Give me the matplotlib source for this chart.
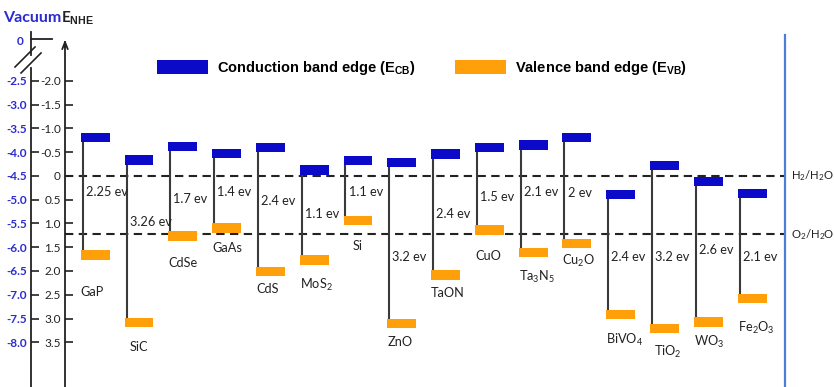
import numpy as np
import matplotlib.pyplot as plt

# Lato is the closest installed face to the Calibri-like labels
plt.rcParams['font.family'] = ['Lato', 'DejaVu Sans']
plt.rcParams['mathtext.fontset'] = 'custom'
plt.rcParams['mathtext.rm'] = 'Lato'
plt.rcParams['mathtext.it'] = 'Lato:italic'
plt.rcParams['mathtext.bf'] = 'Liberation Sans:bold'

# band edges vs NHE (eV)
materials = ['GaP', 'SiC', 'CdSe', 'GaAs', 'CdS', 'MoS$_2$', 'Si', 'ZnO', 'TaON', 'CuO',
             'Ta$_3$N$_5$', 'Cu$_2$O', 'BiVO$_4$', 'TiO$_2$', 'WO$_3$', 'Fe$_2$O$_3$']
cb = [-0.81, -0.34, -0.62, -0.47, -0.60, -0.13, -0.33, -0.28, -0.46, -0.60, -0.65, -0.81, 0.39, -0.22, 0.12, 0.37]
vb = [1.66, 3.08, 1.26, 1.10, 2.01, 1.77, 0.94, 3.11, 2.08, 1.14, 1.61, 1.42, 2.92, 3.21, 3.07, 2.58]
gaps = ['2.25', '3.26', '1.7', '1.4', '2.4', '1.1', '1.1', '3.2', '2.4', '1.5', '2.1', '2', '2.4', '3.2', '2.6', '2.1']

nhe_ticks = [-2.0, -1.5, -1.0, -0.5, 0.0, 0.5, 1.0, 1.5, 2.0, 2.5, 3.0, 3.5]
vac_ticks = [-2.5, -3.0, -3.5, -4.0, -4.5, -5.0, -5.5, -6.0, -6.5, -7.0, -7.5, -8.0]
redox = [0.0, 1.23]
redox_names = ['H$_2$/H$_2$O', 'O$_2$/H$_2$O']

# where the annotations sit (energy units) and small sideways nudges
gap_y = [0.34, 0.97, 0.48, 0.34, 0.53, 0.80, 0.34, 1.71, 0.80, 0.44, 0.34, 0.36, 1.71, 1.71, 1.56, 1.71]
name_y = [2.44, 3.60, 1.83, 1.52, 2.38, 2.29, 1.47, 3.49, 2.46, 1.68, 2.13, 1.79, 3.45, 3.71, 3.49, 3.20]
name_dx = [0, 0.12, 0, 0, 0, 0, 0.2, 0, 0, 0, 0, 0, 0, 0.1, 0, 0]

BLUE = '#0A0AC8'
ORANGE = '#FFA00A'
DARK = '#222222'
VAC = '#2B2BD0'

W, H = 834, 387
fig = plt.figure(figsize=(W / 100, H / 100), dpi=100)
ax = fig.add_axes([0, 0, 1, 1])
ax.set_xlim(-2.174, 16.87)
ax.set_ylim(4.442, -3.705)


def px(x, y):
    # figure pixel -> data coords
    return (x - 95.2) / 43.8, (y - 176) / 47.5


x = np.arange(len(materials))
cb = np.array(cb)
vb = np.array(vb)
bw, bh = 0.66, 0.2

ax.vlines(x - 0.285, cb, vb, color='#3a3a3a', lw=1.5, zorder=2)
b1 = ax.bar(x, bh, bottom=cb - bh / 2, width=bw, color=BLUE, zorder=3)
b2 = ax.bar(x, bh, bottom=vb - bh / 2, width=bw, color=ORANGE, zorder=3)

for i in range(len(materials)):
    ax.text(x[i] - 0.215, gap_y[i], gaps[i] + ' ev', ha='left', va='center', fontsize=9.2, color=DARK)
    ax.text(x[i] - bw / 2 + name_dx[i], name_y[i], materials[i], ha='left', va='center',
            fontsize=9.2, color=DARK)

# water redox levels
x_nhe, _ = px(65, 0)
x_end, _ = px(785, 0)
for lvl, lab in zip(redox, redox_names):
    ax.plot([x_nhe, x_end], [lvl, lvl], color='#222222', lw=1.5, ls=(0, (4, 2.6)), zorder=1)
    ax.text(px(791, 0)[0], lvl, lab, ha='left', va='center', fontsize=8.2, color=DARK)
ax.axvline(x_end, ymin=0, ymax=1 - 35 / H, color='#4A7FD8', lw=1.6)

# NHE axis
for s in ['top', 'right', 'bottom']:
    ax.spines[s].set_visible(False)
ax.spines['left'].set_position(('data', x_nhe))
ax.spines['left'].set_bounds(px(0, 42)[1], 4.442)
ax.spines['left'].set_linewidth(1.3)
ax.spines['left'].set_color('#222222')
ax.set_xticks([])
ax.set_yticks(nhe_ticks)
ax.set_yticklabels(['0' if v == 0 else f'{v:.1f}' for v in nhe_ticks])
ax.tick_params(axis='y', direction='in', length=6, width=1.2, labelsize=8.5, pad=3,
               colors='#222222')
ax.annotate('', xy=px(65, 37), xytext=px(65, 50),
            arrowprops=dict(arrowstyle='->,head_length=0.5,head_width=0.2', lw=1.3, color='#222222'))

# vacuum scale
sec = ax.secondary_yaxis(31 / W, functions=(lambda e: -4.5 - e, lambda v: -4.5 - v))
sec.set_yticks(vac_ticks)
sec.set_yticklabels([f'{v:.1f}' for v in vac_ticks])
sec.tick_params(axis='y', direction='in', length=6, width=1.2, labelsize=8.5, pad=3,
                labelcolor=VAC, color='#222222')
for lab in sec.get_yticklabels():
    lab.set_fontweight('bold')
sec.spines['left'].set_bounds(-4.5 - 4.442, -4.5 - px(0, 68)[1])
sec.spines['left'].set_linewidth(1.3)
sec.spines['left'].set_color('#222222')

xv, _ = px(31, 0)
ax.plot([xv, xv], [px(0, 32)[1], px(0, 55)[1]], color='#222222', lw=1.3, clip_on=False)
ax.plot([xv, px(52, 0)[0]], [px(0, 39)[1]] * 2, color='#222222', lw=1.3)
ax.text(px(23, 0)[0], px(0, 42)[1], '0', ha='right', va='center', fontsize=8.5,
        color=VAC, fontweight='bold')
for off in (-3, 3):
    p0 = px(18 + off, 70 + off)
    p1 = px(38 + off, 50 + off)
    ax.plot([p0[0], p1[0]], [p0[1], p1[1]], color='#222222', lw=1.2)

ax.text(px(3, 0)[0], px(0, 18)[1], 'Vacuum', ha='left', va='center', fontsize=11.5,
        color=VAC, fontweight='bold')
ax.text(px(61, 0)[0], px(0, 18)[1], 'E$_{\\mathbf{NHE}}$', ha='left', va='center',
        fontsize=11, color='#222222', fontweight='bold')

ax.legend([b1, b2], ['Conduction band edge (E$_{\\mathbf{CB}}$)', 'Valence band edge (E$_{\\mathbf{VB}}$)'],
          loc='center left', bbox_to_anchor=(157 / W, 1 - 68 / H), ncol=2, frameon=False,
          handlelength=3.5, handleheight=1.0, handletextpad=0.6, columnspacing=2.7,
          borderpad=0, borderaxespad=0,
          prop=dict(family='Liberation Sans', weight='bold', size=10.5))

fig.savefig('out.png', dpi=100)
